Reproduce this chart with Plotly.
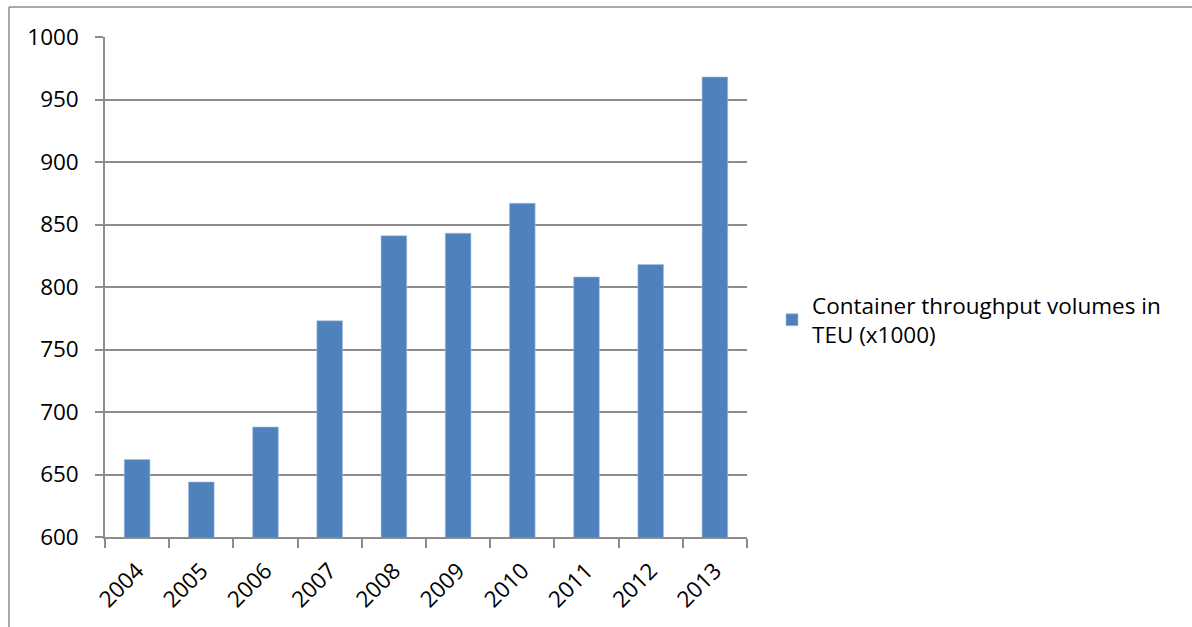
import plotly.graph_objects as go

# Annual container throughput (thousands of TEU)
years = ["2004", "2005", "2006", "2007", "2008", "2009", "2010", "2011", "2012", "2013"]
throughput = [662, 644, 688, 773, 841, 843, 867, 808, 818, 968]
series_name = "Container throughput volumes in<br>TEU (x1000)"
y_ticks = [600, 650, 700, 750, 800, 850, 900, 950, 1000]

W, H = 1192, 627
ML, MR, MT, MB = 105, 445, 37, 90
plot_w = W - ML - MR
plot_h = H - MT - MB

FONT = "Open Sans"
FS = 22.5
GRID = "#8c8c8c"

fig = go.Figure()
fig.add_trace(go.Bar(
    x=years,
    y=throughput,
    name=series_name,
    marker=dict(color="#4F81BD", line=dict(color="#A9C1E0", width=0.6)),
    showlegend=True,
))

def px_x(px):
    return (px - ML) / plot_w

def px_y(py):
    return (H - MB - py) / plot_h

fig.update_layout(
    width=W,
    height=H,
    margin=dict(l=ML, r=MR, t=MT, b=MB, pad=0),
    paper_bgcolor="white",
    plot_bgcolor="white",
    bargap=0.6,
    font=dict(family=FONT, size=FS, color="black"),
    xaxis=dict(
        type="category",
        tickangle=-45,
        tickson="boundaries",
        ticks="outside",
        ticklen=9,
        tickwidth=1.5,
        tickcolor=GRID,
        ticklabelstandoff=10,
        showline=True,
        linecolor=GRID,
        linewidth=1.5,
        showgrid=False,
        tickfont=dict(family=FONT, size=FS, color="black"),
    ),
    yaxis=dict(
        range=[600, 1000],
        tickvals=y_ticks,
        ticks="outside",
        ticklen=8,
        tickwidth=1.5,
        tickcolor=GRID,
        ticklabelstandoff=12,
        showline=True,
        linecolor=GRID,
        linewidth=1.5,
        showgrid=True,
        gridcolor=GRID,
        gridwidth=1.5,
        zeroline=False,
        tickfont=dict(family=FONT, size=FS, color="black"),
    ),
    legend=dict(
        x=px_x(772),
        y=px_y(320),
        xanchor="left",
        yanchor="middle",
        font=dict(family=FONT, size=FS, color="black"),
        bgcolor="rgba(0,0,0,0)",
        itemwidth=30,
    ),
    shapes=[
        # outer chart frame (left and top edges)
        dict(type="line", xref="paper", yref="paper",
             x0=px_x(9), x1=px_x(9), y0=px_y(H + 5), y1=px_y(7),
             line=dict(color=GRID, width=1.5)),
        dict(type="line", xref="paper", yref="paper",
             x0=px_x(9), x1=px_x(W + 5), y0=px_y(7), y1=px_y(7),
             line=dict(color=GRID, width=1.5)),
    ],
)

fig.write_html("out.html")
